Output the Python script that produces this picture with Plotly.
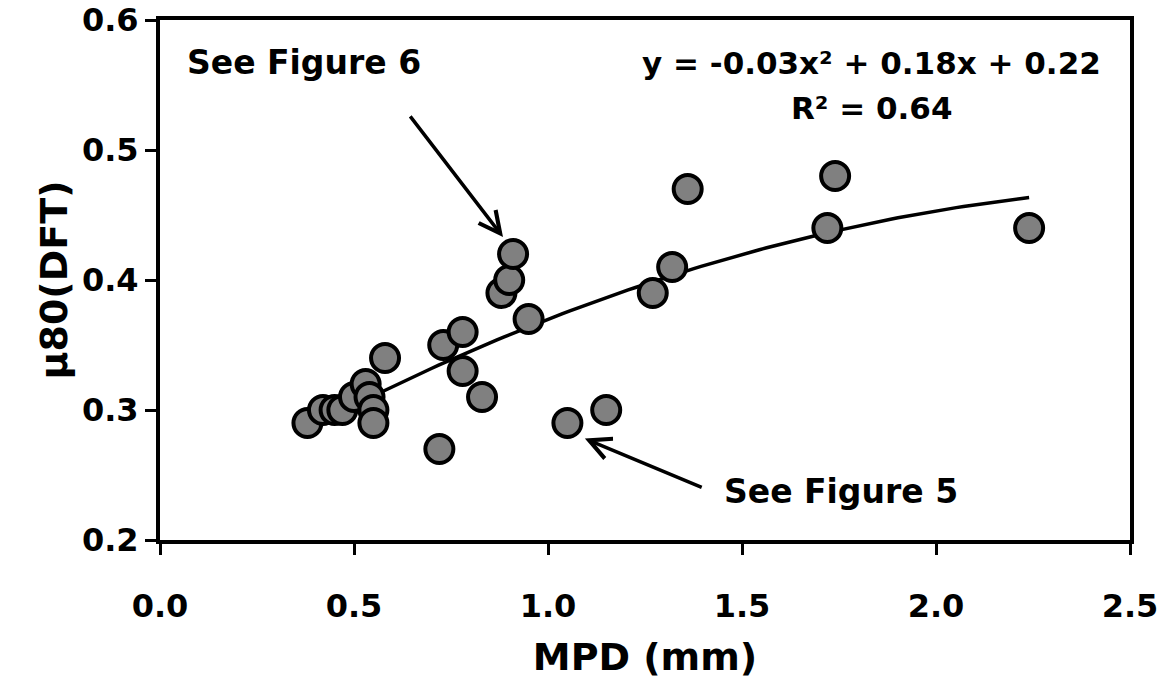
import numpy as np
import plotly.graph_objects as go

# ---- data ----
mpd = [0.38, 0.42, 0.45, 0.47, 0.50, 0.53, 0.54, 0.55, 0.55, 0.58,
       0.72, 0.73, 0.78, 0.78, 0.83, 0.88, 0.90, 0.91, 0.95, 1.05,
       1.15, 1.27, 1.32, 1.36, 1.72, 1.74, 2.24]
mu80 = [0.29, 0.30, 0.30, 0.30, 0.31, 0.32, 0.31, 0.30, 0.29, 0.34,
        0.27, 0.35, 0.36, 0.33, 0.31, 0.39, 0.40, 0.42, 0.37, 0.29,
        0.30, 0.39, 0.41, 0.47, 0.44, 0.48, 0.44]
x_ticks = [0.0, 0.5, 1.0, 1.5, 2.0, 2.5]
x_tick_text = ["0.0", "0.5", "1.0", "1.5", "2.0", "2.5"]
y_ticks = [0.2, 0.3, 0.4, 0.5, 0.6]
y_tick_text = ["0.2", "0.3", "0.4", "0.5", "0.6"]

# trendline: 2nd order polynomial fit of the data
coef = np.polyfit(mpd, mu80, 2)
xt = np.linspace(min(mpd), max(mpd), 100)
yt = np.polyval(coef, xt)

FONT = "DejaVu Sans"
fig = go.Figure()
fig.add_trace(go.Scatter(x=xt, y=yt, mode="lines",
                         line=dict(color="black", width=3.5), showlegend=False,
                         hoverinfo="skip"))
fig.add_trace(go.Scatter(x=mpd, y=mu80, mode="markers",
                         marker=dict(size=28, color="#808080",
                                     line=dict(color="black", width=4)),
                         showlegend=False))

tickfont = dict(family=FONT, size=32, color="black", weight="bold")
titlefont = dict(family=FONT, size=38, color="black", weight="bold")
fig.update_layout(
    width=1169, height=687,
    margin=dict(l=160, r=39, t=20, b=147, autoexpand=False),
    plot_bgcolor="white", paper_bgcolor="white",
    xaxis=dict(range=[0, 2.5], tickvals=x_ticks, ticktext=x_tick_text,
               showgrid=False, zeroline=False, showline=True, mirror=True,
               linecolor="black", linewidth=4, ticks="outside", ticklen=11,
               tickwidth=3, tickcolor="black", tickfont=tickfont,
               ticklabelstandoff=24,
               title=dict(text="MPD (mm)", standoff=20, font=titlefont)),
    yaxis=dict(range=[0.2, 0.6], tickvals=y_ticks, ticktext=y_tick_text,
               showgrid=False, zeroline=False, showline=True, mirror=True,
               linecolor="black", linewidth=4, ticks="outside", ticklen=11,
               tickwidth=3, tickcolor="black", tickfont=tickfont,
               ticklabelstandoff=0,
               title=dict(text="µ80(DFT)", standoff=4, font=titlefont)),
)

annfont = dict(family=FONT, size=33, color="black", weight="bold")
eqfont = dict(family=FONT, size=31, color="black", weight="bold")
fig.add_annotation(x=0.064, y=0.567, xref="x", yref="y", text="See Figure 6",
                   showarrow=False, xanchor="left", font=annfont)
fig.add_annotation(x=1.835, y=0.567, xref="x", yref="y",
                   text="y = -0.03x² + 0.18x + 0.22",
                   showarrow=False, xanchor="center", font=eqfont)
fig.add_annotation(x=1.835, y=0.532, xref="x", yref="y",
                   text="R² = 0.64",
                   showarrow=False, xanchor="center", font=eqfont)
fig.add_annotation(x=1.448, y=0.237, xref="x", yref="y", text="See Figure 5",
                   showarrow=False, xanchor="left", font=annfont)

# arrows (open, line-drawn heads)
fig.add_annotation(x=0.884, y=0.433, xref="x", yref="y",
                   ax=0.642, ay=0.527, axref="x", ayref="y", text="",
                   showarrow=True, arrowhead=5, arrowsize=1.2, arrowwidth=3.5,
                   arrowcolor="black")
fig.add_annotation(x=1.095, y=0.278, xref="x", yref="y",
                   ax=1.40, ay=0.240, axref="x", ayref="y", text="",
                   showarrow=True, arrowhead=5, arrowsize=1.2, arrowwidth=3.5,
                   arrowcolor="black")

fig.write_html("out.html")
